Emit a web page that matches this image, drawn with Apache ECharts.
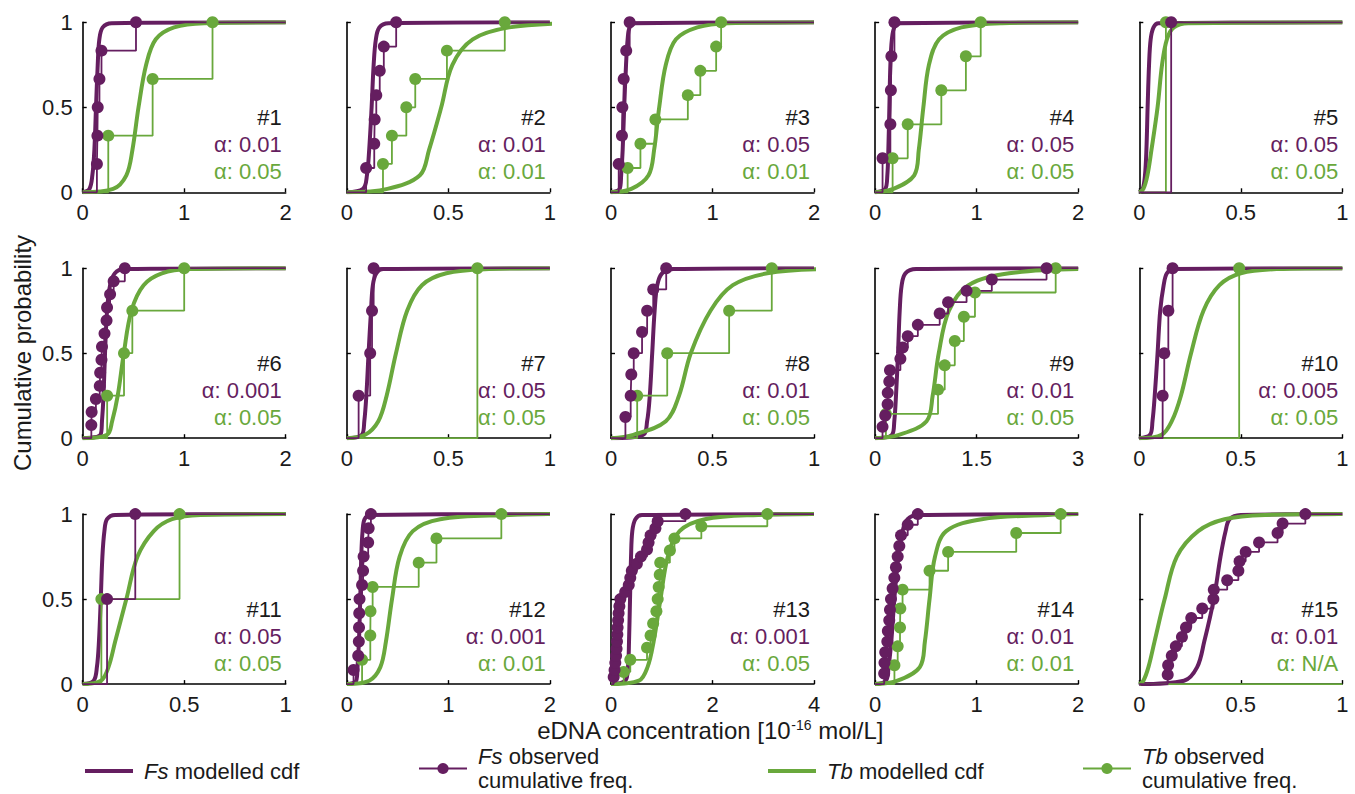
<!DOCTYPE html>
<html>
<head>
<meta charset="utf-8">
<script src="https://cdn.jsdelivr.net/npm/echarts@6.0.0/dist/echarts.min.js"></script>
<style>
  html, body { margin: 0; padding: 0; background: #fff; }
  #chart { width: 1355px; height: 794px; }
</style>
</head>
<body>
<div id="chart"></div>
<script>
// x-axis max of each panel (#1..#15)
const xMax = [2, 1, 2, 2, 1, 2, 1, 1, 3, 1, 1, 2, 4, 2, 1];
const fsAlpha = ['0.01', '0.01', '0.05', '0.05', '0.05', '0.001', '0.05', '0.01', '0.01', '0.005', '0.05', '0.001', '0.001', '0.01', '0.01'];
const tbAlpha = ['0.05', '0.01', '0.01', '0.05', '0.05', '0.05', '0.05', '0.05', '0.05', '0.05', '0.05', '0.01', '0.05', '0.01', 'N/A'];

// modelled cdf: concentration at these probability levels
const cdfLevels = [0.02, 0.1, 0.25, 0.5, 0.75, 0.9, 0.97, 0.995];
const fsCdfX = [
  [0.066, 0.095, 0.115, 0.131, 0.148, 0.164, 0.197, 0.285],
  [0.08, 0.099, 0.11, 0.122, 0.132, 0.143, 0.16, 0.205],
  [0.085, 0.10, 0.115, 0.13, 0.148, 0.164, 0.184, 0.24],
  [0.10, 0.12, 0.13, 0.14, 0.15, 0.165, 0.19, 0.25],
  [0.017, 0.028, 0.035, 0.041, 0.048, 0.056, 0.07, 0.094],
  [0.175, 0.19, 0.205, 0.22, 0.24, 0.27, 0.317, 0.407],
  [0.074, 0.086, 0.096, 0.107, 0.119, 0.128, 0.145, 0.18],
  [0.158, 0.178, 0.191, 0.203, 0.215, 0.228, 0.252, 0.31],
  [0.25, 0.283, 0.308, 0.338, 0.363, 0.392, 0.447, 0.606],
  [0.053, 0.065, 0.076, 0.09, 0.103, 0.12, 0.136, 0.17],
  [0.054, 0.07, 0.08, 0.089, 0.097, 0.107, 0.12, 0.16],
  [0.092, 0.105, 0.119, 0.132, 0.142, 0.155, 0.175, 0.23],
  [0.283, 0.335, 0.355, 0.375, 0.395, 0.42, 0.48, 0.61],
  [0.106, 0.132, 0.159, 0.189, 0.228, 0.27, 0.32, 0.42],
  [0.22, 0.285, 0.32, 0.367, 0.4, 0.425, 0.445, 0.5]
];
const tbCdfX = [
  [0.3, 0.43, 0.49, 0.55, 0.625, 0.72, 0.9, 1.2],
  [0.2, 0.36, 0.405, 0.465, 0.52, 0.62, 0.8, 1.1],
  [0.2, 0.37, 0.425, 0.475, 0.54, 0.64, 0.85, 1.15],
  [0.18, 0.385, 0.43, 0.475, 0.53, 0.63, 0.85, 1.25],
  [0.02, 0.04, 0.06, 0.09, 0.112, 0.136, 0.17, 0.24],
  [0.24, 0.29, 0.345, 0.405, 0.48, 0.6, 0.78, 1.05],
  [0.09, 0.155, 0.196, 0.242, 0.297, 0.37, 0.49, 0.7],
  [0.11, 0.27, 0.335, 0.393, 0.49, 0.6, 0.77, 1.05],
  [0.35, 0.76, 0.85, 0.94, 1.09, 1.38, 1.98, 3.0],
  [0.11, 0.16, 0.205, 0.255, 0.316, 0.395, 0.5, 0.68],
  [0.09, 0.127, 0.16, 0.215, 0.27, 0.35, 0.44, 0.58],
  [0.22, 0.33, 0.385, 0.445, 0.52, 0.65, 0.92, 1.6],
  [0.55, 0.72, 0.84, 0.975, 1.12, 1.35, 1.85, 2.9],
  [0.22, 0.44, 0.49, 0.536, 0.59, 0.7, 1.05, 1.7],
  [0.02, 0.045, 0.075, 0.125, 0.185, 0.29, 0.42, 0.62]
];

// observed samples (sorted), cumulative freq = rank / count
const fsObs = [
  [0.14, 0.145, 0.148, 0.165, 0.185, 0.525],
  [0.095, 0.135, 0.137, 0.145, 0.162, 0.182, 0.243],
  [0.076, 0.108, 0.112, 0.125, 0.15, 0.184],
  [0.073, 0.15, 0.155, 0.16, 0.19],
  [0.157],
  [0.085, 0.088, 0.13, 0.168, 0.172, 0.185, 0.19, 0.215, 0.235, 0.24, 0.27, 0.305, 0.415],
  [0.058, 0.115, 0.124, 0.132],
  [0.071, 0.097, 0.1, 0.112, 0.153, 0.178, 0.208, 0.272],
  [0.109, 0.149, 0.184, 0.186, 0.209, 0.219, 0.373, 0.407, 0.482, 0.631, 0.954, 1.078, 1.351, 1.724, 2.533],
  [0.115, 0.123, 0.143, 0.164],
  [0.12, 0.259],
  [0.066, 0.112, 0.118, 0.12, 0.122, 0.125, 0.15, 0.16, 0.165, 0.21, 0.215, 0.237],
  [0.053, 0.07, 0.085, 0.1, 0.11, 0.118, 0.125, 0.13, 0.14, 0.15, 0.165, 0.184, 0.28, 0.35, 0.38, 0.41, 0.51, 0.59, 0.71, 0.74, 0.78, 0.875, 0.92, 1.467],
  [0.089, 0.092, 0.099, 0.12, 0.125, 0.139, 0.146, 0.156, 0.172, 0.189, 0.205, 0.222, 0.238, 0.255, 0.321, 0.42],
  [0.14, 0.142, 0.16, 0.18, 0.21, 0.23, 0.256, 0.31, 0.365, 0.367, 0.433, 0.488, 0.494, 0.524, 0.59, 0.681, 0.706, 0.818]
];
const tbObs = [
  [0.252, 0.689, 1.279],
  [0.178, 0.222, 0.293, 0.337, 0.493, 0.778],
  [0.164, 0.29, 0.4375, 0.757, 0.88, 1.036, 1.085],
  [0.172, 0.321, 0.652, 0.894, 1.04],
  [0.131],
  [0.241, 0.407, 0.489, 1.0],
  [0.643],
  [0.129, 0.277, 0.582, 0.792],
  [0.159, 0.929, 1.028, 1.177, 1.311, 1.475, 2.668],
  [0.492],
  [0.092, 0.477],
  [0.15, 0.231, 0.233, 0.254, 0.708, 0.883, 1.522],
  [0.25, 0.38, 0.71, 0.78, 0.83, 0.895, 0.92, 0.94, 0.96, 0.97, 1.16, 1.25, 1.78, 3.08],
  [0.19, 0.222, 0.245, 0.248, 0.27, 0.536, 0.719, 1.39, 1.828],
  []
];

const PURPLE = '#651e60';
const GREEN = '#69a83c';
const TXT = '#1a1a1a';
const FONT = '"Liberation Sans", Arial, sans-serif';
const FS = 22;

const NAMES = ['Fs modelled cdf', 'Fs observed cumulative freq.', 'Tb modelled cdf', 'Tb observed cumulative freq.'];

// panel layout (px)
const left0 = 82.7, stepX = 264.15, gw = 203;
const top0 = 22.3, stepY = 245.9, gh = 170;

function modelData(qx, xmax) {
  const d = [[0, 0]];
  qx.forEach((x, k) => d.push([x, cdfLevels[k]]));
  if (qx[qx.length - 1] < xmax) d.push([xmax, 1]);
  return d;
}

function obsData(xs, xmax) {
  const n = xs.length;
  const d = [{ value: [0, 0], symbol: 'none' }];
  xs.forEach((x, k) => d.push([x, (k + 1) / n]));
  d.push({ value: [xmax, n ? 1 : 0], symbol: 'none' });
  return d;
}

const grid = [], xAxis = [], yAxis = [], series = [], graphic = [];

for (let i = 0; i < 15; i++) {
  const r = Math.floor(i / 5), c = i % 5;
  const gl = left0 + stepX * c, gt = top0 + stepY * r;
  grid.push({ left: gl, top: gt, width: gw, height: gh });

  const axisLine = { lineStyle: { color: '#000', width: 1.6 } };
  const axisTick = { inside: true, length: 4, lineStyle: { color: '#000', width: 1.4 } };
  xAxis.push({
    gridIndex: i, type: 'value', min: 0, max: xMax[i], interval: xMax[i] / 2,
    axisLine, axisTick, splitLine: { show: false },
    axisLabel: { fontSize: FS, fontFamily: FONT, color: TXT, margin: 9 }
  });
  yAxis.push({
    gridIndex: i, type: 'value', min: 0, max: 1, interval: 0.5,
    axisLine: { show: true, lineStyle: axisLine.lineStyle }, axisTick: { show: true, inside: true, length: 4, lineStyle: axisTick.lineStyle },
    splitLine: { show: false },
    axisLabel: { show: c === 0, fontSize: FS, fontFamily: FONT, color: TXT, margin: 10 }
  });

  series.push({
    name: NAMES[0], type: 'line', xAxisIndex: i, yAxisIndex: i,
    data: modelData(fsCdfX[i], xMax[i]), smooth: 0.35, symbol: 'none',
    lineStyle: { color: PURPLE, width: 4 }, itemStyle: { color: PURPLE }
  });
  series.push({
    name: NAMES[2], type: 'line', xAxisIndex: i, yAxisIndex: i,
    data: modelData(tbCdfX[i], xMax[i]), smooth: 0.35, symbol: 'none',
    lineStyle: { color: GREEN, width: 4 }, itemStyle: { color: GREEN }
  });
  series.push({
    name: NAMES[3], type: 'line', xAxisIndex: i, yAxisIndex: i,
    data: obsData(tbObs[i], xMax[i]), step: 'end', symbol: 'circle', symbolSize: 12,
    showAllSymbol: true, clip: false,
    lineStyle: { color: GREEN, width: 1.8 }, itemStyle: { color: GREEN }
  });
  series.push({
    name: NAMES[1], type: 'line', xAxisIndex: i, yAxisIndex: i,
    data: obsData(fsObs[i], xMax[i]), step: 'end', symbol: 'circle', symbolSize: 12,
    showAllSymbol: true, clip: false,
    lineStyle: { color: PURPLE, width: 1.8 }, itemStyle: { color: PURPLE }
  });

  const tx = gl + gw - 4;
  graphic.push({ type: 'text', x: tx, y: gt + 95, style: { text: '#' + (i + 1), fill: TXT, font: FS + 'px ' + FONT, align: 'right', verticalAlign: 'middle' } });
  graphic.push({ type: 'text', x: tx, y: gt + 122, style: { text: 'α: ' + fsAlpha[i], fill: PURPLE, font: FS + 'px ' + FONT, align: 'right', verticalAlign: 'middle' } });
  graphic.push({ type: 'text', x: tx, y: gt + 149, style: { text: 'α: ' + tbAlpha[i], fill: GREEN, font: FS + 'px ' + FONT, align: 'right', verticalAlign: 'middle' } });
}

// axis titles
graphic.push({
  type: 'text', x: 22, y: 353, rotation: Math.PI / 2,
  style: { text: 'Cumulative probability', fill: TXT, font: '24px ' + FONT, align: 'center', verticalAlign: 'middle' }
});
graphic.push({
  type: 'text', x: 710, y: 730,
  style: {
    text: '{a|eDNA concentration [10}{b|-16}{a| mol/L]}',
    align: 'center', verticalAlign: 'middle',
    rich: {
      a: { fontSize: 24, fontFamily: FONT, fill: TXT, lineHeight: 24 },
      b: { fontSize: 14, fontFamily: FONT, fill: TXT, verticalAlign: 'top', lineHeight: 24 }
    }
  }
});

// legend: one small legend per entry so they sit like the original
const LFS = 22, LLH = 24;
const legendRich = {
  i: { fontStyle: 'italic', fontSize: LFS, fontFamily: FONT, color: TXT, lineHeight: LLH },
  n: { fontSize: LFS, fontFamily: FONT, color: TXT, lineHeight: LLH }
};
const legendText = {
  'Fs modelled cdf': ' {i|Fs}{n| modelled cdf}',
  'Fs observed cumulative freq.': ' {i|Fs}{n| observed}\n {n|cumulative freq.}',
  'Tb modelled cdf': ' {i|Tb}{n| modelled cdf}',
  'Tb observed cumulative freq.': ' {i|Tb}{n| observed}\n {n|cumulative freq.}'
};
const legendLeft = [85, 418, 768, 1082];
const legendTop = [759, 744.5, 759, 744.5];
const legend = [0, 1, 2, 3].map(k => {
  const modelled = k === 0 || k === 2;
  return {
    data: [NAMES[k]], left: legendLeft[k], top: legendTop[k], orient: 'horizontal',
    itemWidth: 48, itemHeight: modelled ? 4 : 14, icon: modelled ? 'rect' : undefined,
    selectedMode: false, padding: 0,
    formatter: name => legendText[name],
    textStyle: { fontSize: LFS, fontFamily: FONT, color: TXT, lineHeight: LLH, rich: legendRich }
  };
});

const chart = echarts.init(document.getElementById('chart'), null, { renderer: 'svg' });
chart.setOption({
  backgroundColor: '#fff',
  animation: false,
  grid, xAxis, yAxis, series, legend, graphic
});
</script>
</body>
</html>
